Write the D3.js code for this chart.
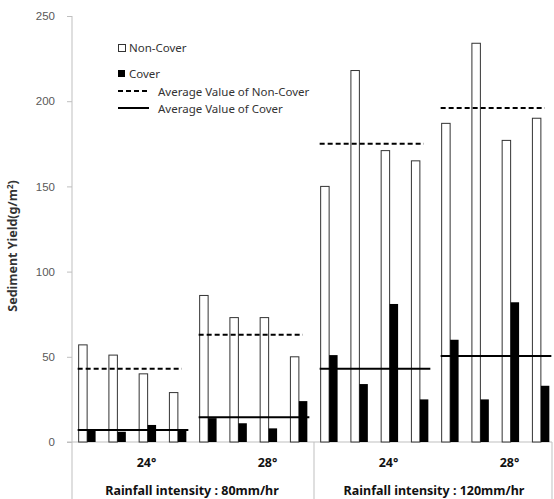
<!DOCTYPE html>
<html>
<head>
<meta charset="utf-8">
<script src="https://cdn.jsdelivr.net/npm/d3@7"></script>
<style>
  body { margin: 0; background: #fff; }
  svg { display: block; font-family: "Noto Sans", "DejaVu Sans", sans-serif; }
</style>
</head>
<body>
<div id="chart"></div>
<script>
// data
const rainfall = ["Rainfall intensity : 80mm/hr", "Rainfall intensity : 120mm/hr"];
const slopes = ["24°", "28°", "24°", "28°"];
const nonCover = [[57, 51, 40, 29], [86, 73, 73, 50], [150, 218, 171, 165], [187, 234, 177, 190]];
const cover = [[7, 6, 10, 7], [14, 11, 8, 24], [51, 34, 81, 25], [60, 25, 82, 33]];
const avgNonCover = [43, 63, 175, 196];
const avgCover = [7, 14.5, 43, 50.5];
const yTicks = [0, 50, 100, 150, 200, 250];
const legendItems = ["Non-Cover", "Cover", "Average Value of Non-Cover", "Average Value of Cover"];

const width = 554, height = 499;
const plotLeft = 72, plotRight = 556, plotTop = 16, plotBottom = 442;
const axisColor = "#bfbfbf";

const svg = d3.select("#chart").append("svg")
  .attr("width", width).attr("height", height);

const y = d3.scaleLinear().domain([0, 250]).range([plotBottom, plotTop]);

// 16 slots: 4 groups x 4 replicates
const slots = d3.range(16);
const x = d3.scaleBand().domain(slots).range([plotLeft, plotRight]).padding(0);
const barW = x.bandwidth() * 0.28;
const groupX = d3.scaleBand().domain(d3.range(4)).range([plotLeft, plotRight]);
const rainX = d3.scaleBand().domain(d3.range(2)).range([plotLeft, plotRight]);

// y axis
const yAxis = svg.append("g").attr("transform", `translate(${plotLeft},0)`)
  .call(d3.axisLeft(y).tickValues(yTicks).tickSize(5).tickPadding(12));
yAxis.select(".domain").remove();
yAxis.selectAll(".tick line").attr("stroke", axisColor);
yAxis.selectAll(".tick text").attr("fill", "#595959").style("font-size", "11.5px");

svg.append("line").attr("x1", plotLeft).attr("x2", plotLeft).attr("y1", plotTop).attr("y2", height)
  .attr("stroke", axisColor);
svg.append("line").attr("x1", plotLeft - 5).attr("x2", width - 2).attr("y1", plotBottom).attr("y2", plotBottom)
  .attr("stroke", axisColor);
// separators between rainfall groups
svg.selectAll(".sep").data([rainX.range()[0] + rainX.bandwidth(), width - 2])
  .enter().append("line")
  .attr("x1", d => d).attr("x2", d => d).attr("y1", plotBottom).attr("y2", height)
  .attr("stroke", axisColor);

svg.append("text")
  .attr("transform", "translate(17,246) rotate(-90)")
  .attr("text-anchor", "middle")
  .style("font-size", "12.5px").style("font-weight", "bold").attr("fill", "#333")
  .html("Sediment Yield(g/m<tspan dy='-4' font-size='8px'>2</tspan><tspan dy='4'>)</tspan>");

// bars
const rows = [];
nonCover.forEach((g, gi) => g.forEach((v, i) => rows.push({ slot: gi * 4 + i, nc: v, c: cover[gi][i] })));

const bars = svg.append("g");
bars.selectAll(".nc").data(rows).enter().append("rect")
  .attr("x", d => x(d.slot) + x.bandwidth() / 2 - barW)
  .attr("y", d => y(d.nc))
  .attr("width", barW).attr("height", d => plotBottom - y(d.nc))
  .attr("fill", "#fff").attr("stroke", "#333").attr("stroke-width", 1);
bars.selectAll(".c").data(rows).enter().append("rect")
  .attr("x", d => x(d.slot) + x.bandwidth() / 2)
  .attr("y", d => y(d.c))
  .attr("width", barW).attr("height", d => plotBottom - y(d.c))
  .attr("fill", "#000");

// average lines
const first = gi => x(gi * 4) + x.bandwidth() / 2 - barW - 1;
const last = gi => x(gi * 4 + 3) + x.bandwidth() / 2;
svg.selectAll(".avgNC").data(avgNonCover).enter().append("line")
  .attr("x1", (d, i) => first(i)).attr("x2", (d, i) => last(i) + 4)
  .attr("y1", d => y(d)).attr("y2", d => y(d))
  .attr("stroke", "#000").attr("stroke-width", 2).attr("stroke-dasharray", "5,3");
svg.selectAll(".avgC").data(avgCover).enter().append("line")
  .attr("x1", (d, i) => first(i)).attr("x2", (d, i) => last(i) + barW + 2)
  .attr("y1", d => y(d)).attr("y2", d => y(d))
  .attr("stroke", "#000").attr("stroke-width", 2);

// category labels
svg.selectAll(".slope").data(slopes).enter().append("text")
  .attr("x", (d, i) => groupX(i) + groupX.bandwidth() / 2 + 14)
  .attr("y", 467)
  .attr("text-anchor", "middle")
  .style("font-size", "12.5px").style("font-weight", "bold").attr("fill", "#111")
  .text(d => d);
svg.selectAll(".rain").data(rainfall).enter().append("text")
  .attr("x", (d, i) => rainX(i) + rainX.bandwidth() / 2 - 1)
  .attr("y", 495)
  .attr("text-anchor", "middle")
  .style("font-size", "12.5px").style("font-weight", "bold").attr("fill", "#111")
  .text(d => d);

// legend
const lg = svg.append("g").attr("transform", "translate(118,0)");
lg.append("rect").attr("x", 0.5).attr("y", 44.5).attr("width", 7).attr("height", 7)
  .attr("fill", "#fff").attr("stroke", "#333");
lg.append("rect").attr("x", 0).attr("y", 70).attr("width", 7).attr("height", 7).attr("fill", "#000");
lg.append("line").attr("x1", 0).attr("x2", 31).attr("y1", 91).attr("y2", 91)
  .attr("stroke", "#000").attr("stroke-width", 2).attr("stroke-dasharray", "5,3");
lg.append("line").attr("x1", 0).attr("x2", 31).attr("y1", 108).attr("y2", 108)
  .attr("stroke", "#000").attr("stroke-width", 2);
const legPos = [[11, 52], [11, 78], [40, 96], [40, 113]];
lg.selectAll(".lt").data(legendItems).enter().append("text")
  .attr("x", (d, i) => legPos[i][0]).attr("y", (d, i) => legPos[i][1])
  .style("font-size", "11.5px").attr("fill", "#333")
  .text(d => d);
</script>
</body>
</html>
